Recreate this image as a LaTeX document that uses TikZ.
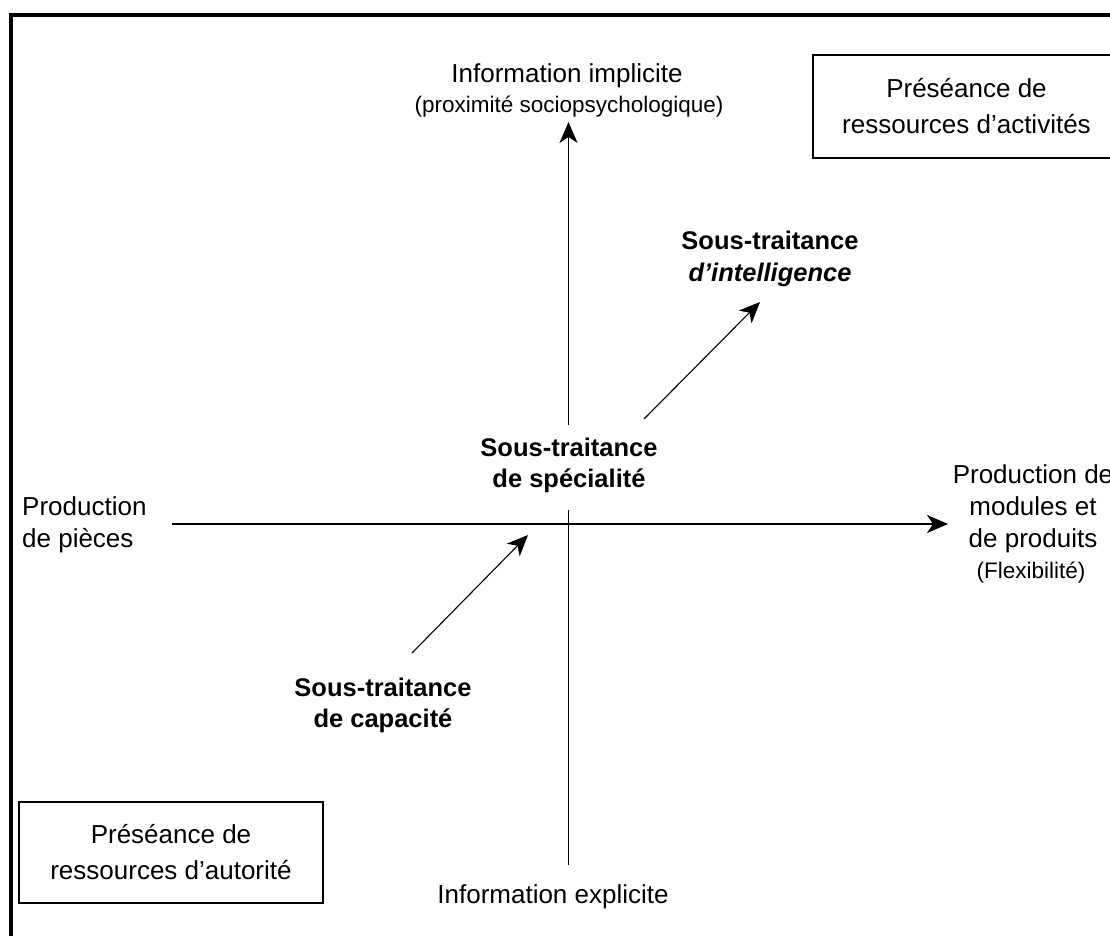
\documentclass[tikz,border=0pt]{standalone}
\usepackage{fontspec}
\setmainfont{Liberation Sans}
\usetikzlibrary{arrows.meta}
\begin{document}
\begin{tikzpicture}[x=1pt,y=-1pt,
  txt/.style={inner sep=0pt, align=center, font=\fontsize{26}{32}\selectfont},
  small/.style={inner sep=0pt, font=\fontsize{22.5}{27}\selectfont},
  bold/.style={inner sep=0pt, align=center, font=\fontsize{25.5}{31.5}\selectfont\bfseries},
  boxed/.style={draw, line width=1.3pt, inner sep=0pt, align=center, font=\fontsize{26}{36}\selectfont},
  axis/.style={line width=1.5pt, -{Stealth[length=21pt,width=18pt,inset=6pt]}},
  axisline/.style={line width=1.5pt},
  diag/.style={line width=1.1pt, -{Stealth[length=21pt,width=18pt,inset=6pt]}}]
\useasboundingbox (0,0) rectangle (1110,936);
\clip (0,0) rectangle (1110,936);
\fill[white] (0,0) rectangle (1110,936);
% outer frame
\draw[line width=4pt] (11,15) rectangle (1140,970);
% boxes
\node[boxed, minimum width=307pt, minimum height=103pt] (act) at (966.5,106.5)
  {Préséance de\\ressources d’activités};
\node[boxed, minimum width=304pt, minimum height=101pt] (aut) at (171,852.5)
  {Préséance de\\ressources d’autorité};
% axis labels
\node[txt, anchor=base] (impl) at (567,83) {Information implicite};
\node[small, anchor=base] (prox) at (569,113) {(proximité sociopsychologique)};
\node[txt, anchor=base] (expl) at (553,903) {Information explicite};
\node[txt, align=left, anchor=west] (pieces) at (22,524.5) {Production\\de pièces};
\node[txt] (modules) at (1033,508.5) {Production de\\modules et\\de produits};
\node[small, anchor=base] (flex) at (1031,578) {(Flexibilité)};
% central labels
\node[bold] (spec) at (569,465.5) {Sous-traitance\\de spécialité};
\node[bold] (intel) at (770,259) {Sous-traitance\\\textit{d’intelligence}};
\node[bold] (capa) at (383,705.5) {Sous-traitance\\de capacité};
% axis coordinates
\coordinate (vtop) at (568.5,122);
\coordinate (vmidhi) at (568.5,425);
\coordinate (vmidlo) at (568.5,510);
\coordinate (vbot) at (568.5,865);
\coordinate (hleft) at (172,524);
\coordinate (hright) at (948,524);
% axes
\draw[axis] (vmidhi) -- (vtop);
\draw[axisline] (vbot) -- (vmidlo);
\draw[axis] (hleft) -- (hright);
% diagonal arrows
\coordinate (c1) at (412,653);
\coordinate (c2) at (528,535);
\coordinate (i1) at (644,419);
\coordinate (i2) at (760,302);
\draw[diag] (c1) -- (c2);
\draw[diag] (i1) -- (i2);
\end{tikzpicture}
\end{document}
